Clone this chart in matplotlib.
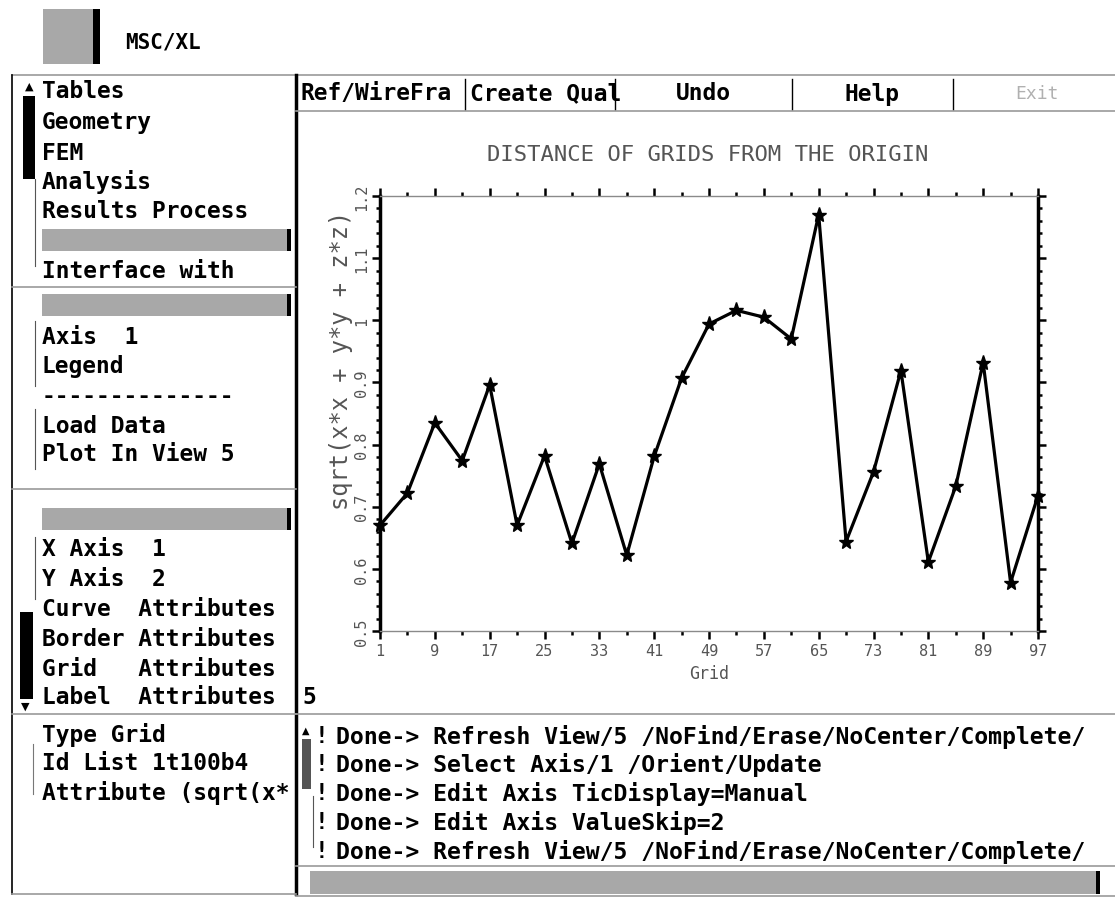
import numpy as np
import matplotlib.pyplot as plt
from matplotlib.patches import Rectangle

# MSC/XL screen: distance of grids from the origin

grid_ids = [1, 5, 9, 13, 17, 21, 25, 29, 33, 37, 41, 45, 49,
            53, 57, 61, 65, 69, 73, 77, 81, 85, 89, 93, 97]
dist = [0.670, 0.722, 0.835, 0.774, 0.896, 0.670, 0.782, 0.641, 0.769, 0.622,
        0.781, 0.907, 0.994, 1.016, 1.005, 0.970, 1.170, 0.644, 0.756, 0.919,
        0.611, 0.733, 0.932, 0.578, 0.718]
x_ticks = [1, 9, 17, 25, 33, 41, 49, 57, 65, 73, 81, 89, 97]
y_ticks = [0.5, 0.6, 0.7, 0.8, 0.9, 1.0, 1.1, 1.2]
y_ticklabels = ['0.5', '0.6', '0.7', '0.8', '0.9', '1', '1.1', '1.2']

menu_main = ['Tables', 'Geometry', 'FEM', 'Analysis', 'Results Process', '', 'Interface with']
menu_plot = ['', 'Axis  1', 'Legend', '--------------', 'Load Data', 'Plot In View 5']
menu_attr = ['', 'X Axis  1', 'Y Axis  2', 'Curve  Attributes', 'Border Attributes',
             'Grid   Attributes', 'Label  Attributes']
menu_cmd = ['Type Grid', 'Id List 1t100b4', 'Attribute (sqrt(x*']
buttons = ['Ref/WireFra', 'Create Qual', 'Undo', 'Help', 'Exit']
log_lines = ['Done-> Refresh View/5 /NoFind/Erase/NoCenter/Complete/',
             'Done-> Select Axis/1 /Orient/Update',
             'Done-> Edit Axis TicDisplay=Manual',
             'Done-> Edit Axis ValueSkip=2',
             'Done-> Refresh View/5 /NoFind/Erase/NoCenter/Complete/']

MONO = 'DejaVu Sans Mono'
FS = 16.5
GRAY = '#a8a8a8'
LINE = '#9a9a9a'

fig = plt.figure(figsize=(11.15, 9.04), dpi=100)
bg = fig.add_axes([0, 0, 1, 1])
bg.set_xlim(0, 1115)
bg.set_ylim(904, 0)
bg.axis('off')


def gray_bar(x0, x1, y0, y1):
    bg.add_patch(Rectangle((x0, y0), x1 - x0, y1 - y0, color=GRAY, lw=0))
    bg.add_patch(Rectangle((x1, y0), 4, y1 - y0, color='black', lw=0))


def hline(x0, x1, y, c=LINE, lw=1.2):
    bg.plot([x0, x1], [y, y], color=c, lw=lw)


def vline(x, y0, y1, c='black', lw=1.0):
    bg.plot([x, x], [y0, y1], color=c, lw=lw)


# header
bg.add_patch(Rectangle((43, 10), 50, 55, color=GRAY, lw=0))
bg.add_patch(Rectangle((93, 10), 7, 55, color='black', lw=0))
bg.text(125, 42, 'MSC/XL', fontsize=15, fontweight='bold', family=MONO, va='center')

# left panel frame
hline(12, 1115, 76)
vline(12, 76, 895, c='black', lw=1.2)
vline(296, 76, 895, c='black', lw=2.5)
for yy in [288, 490, 715]:
    hline(12, 296, yy)
hline(12, 296, 895)

ys_main = [92, 123, 153, 182, 212, 241, 272]
for txt, yy in zip(menu_main, ys_main):
    if txt:
        bg.text(42, yy, txt, fontsize=FS, fontweight='bold', family=MONO, va='center')
    else:
        gray_bar(42, 287, yy - 11, yy + 11)
bg.text(29, 87, '▲', fontsize=8, ha='center', va='center', family='DejaVu Sans')
bg.add_patch(Rectangle((23, 97), 12, 83, color='black', lw=0))
vline(35, 180, 267, c='#555555', lw=0.8)

ys_plot = [306, 338, 367, 397, 427, 455]
for txt, yy in zip(menu_plot, ys_plot):
    if txt:
        bg.text(42, yy, txt, fontsize=FS, fontweight='bold', family=MONO, va='center')
    else:
        gray_bar(42, 287, yy - 11, yy + 11)
vline(35, 322, 387, c='#555555', lw=0.8)
vline(35, 410, 470, c='#555555', lw=0.8)

ys_attr = [520, 550, 580, 610, 640, 670, 698]
for txt, yy in zip(menu_attr, ys_attr):
    if txt:
        bg.text(42, yy, txt, fontsize=FS, fontweight='bold', family=MONO, va='center')
    else:
        gray_bar(42, 287, yy - 11, yy + 11)
vline(35, 538, 600, c='#555555', lw=0.8)
bg.add_patch(Rectangle((20, 613), 13, 87, color='black', lw=0))
bg.text(25, 707, '▼', fontsize=8, ha='center', va='center', family='DejaVu Sans')

ys_cmd = [735, 764, 793]
for txt, yy in zip(menu_cmd, ys_cmd):
    bg.text(42, yy, txt, fontsize=FS, fontweight='bold', family=MONO, va='center')
vline(33, 745, 795, c='#777777', lw=0.8)

# button row
hline(296, 1115, 112)
edges = [296, 465, 615, 792, 953, 1115]
for e in edges[1:-1]:
    vline(e, 80, 110, lw=1.0)
for i, txt in enumerate(buttons):
    if i < 2:
        bg.text(edges[i] + 5, 94, txt, fontsize=FS, fontweight='bold', family=MONO, va='center')
    elif txt == 'Exit':
        bg.text(1037, 94, txt, fontsize=13, family=MONO, va='center', ha='center', color='#b0b0b0')
    else:
        bg.text((edges[i] + edges[i + 1]) / 2, 94, txt, fontsize=FS, fontweight='bold',
                family=MONO, va='center', ha='center')

# view number
bg.text(302, 698, '5', fontsize=FS, fontweight='bold', family=MONO, va='center')

# command log
hline(296, 1115, 715)
bg.text(306, 731, '▲', fontsize=7, ha='center', va='center', family='DejaVu Sans')
bg.add_patch(Rectangle((302, 740), 9, 50, color='#555555', lw=0))
vline(313, 797, 848, c='#555555', lw=0.8)
ys_log = [737, 765, 794, 823, 852]
for txt, yy in zip(log_lines, ys_log):
    bg.text(321, yy, '!', fontsize=FS, fontweight='bold', family=MONO, va='center', ha='center')
    bg.text(336, yy, txt, fontsize=16.7, fontweight='bold', family=MONO, va='center')
hline(296, 1115, 867)
gray_bar(310, 1096, 872, 895)
hline(296, 1115, 897)

# chart
ax = fig.add_axes([380 / 1115, (904 - 632) / 904, (1038 - 380) / 1115, (632 - 197) / 904])
ax.plot(grid_ids, dist, color='black', lw=2.3, marker='*', ms=11, mfc='black', mec='black',
        clip_on=False)
ax.set_xlim(1, 97)
ax.set_ylim(0.5, 1.2)

ax.set_xticks(x_ticks)
ax.set_xticklabels([str(t) for t in x_ticks])
ax.set_xticks([5, 13, 21, 29, 37, 45, 53, 61, 69, 77, 85, 93], minor=True)
ax.set_yticks(y_ticks)
ax.set_yticklabels(y_ticklabels, rotation=90, va='center')
ax.set_yticks(np.arange(0.5, 1.2001, 0.02), minor=True)

ax.tick_params(axis='x', which='both', direction='out', top=True, bottom=True,
               labelsize=11, labelcolor='#555555', pad=3)
ax.tick_params(axis='y', which='both', direction='out', left=True, right=True,
               labelsize=11, labelcolor='#555555', pad=2)
ax.tick_params(which='major', length=6, width=1.8)
ax.tick_params(which='minor', length=3, width=1.8)
for lab in ax.get_xticklabels() + ax.get_yticklabels():
    lab.set_family(MONO)

for s in ['left', 'right']:
    ax.spines[s].set_linewidth(2.5)
for s in ['top', 'bottom']:
    ax.spines[s].set_linewidth(1.0)
    ax.spines[s].set_color('#8a8a8a')

ax.set_xlabel('Grid', fontsize=12, color='#555555', family=MONO, labelpad=4)
bg.text(341, 360, 'sqrt(x*x + y*y + z*z)', fontsize=17, color='#555555', family=MONO,
        rotation=90, ha='center', va='center')
bg.text(708, 155, 'DISTANCE OF GRIDS FROM THE ORIGIN', fontsize=16,
        color='#555555', family=MONO, ha='center', va='center')

fig.savefig('out.png', dpi=100)
